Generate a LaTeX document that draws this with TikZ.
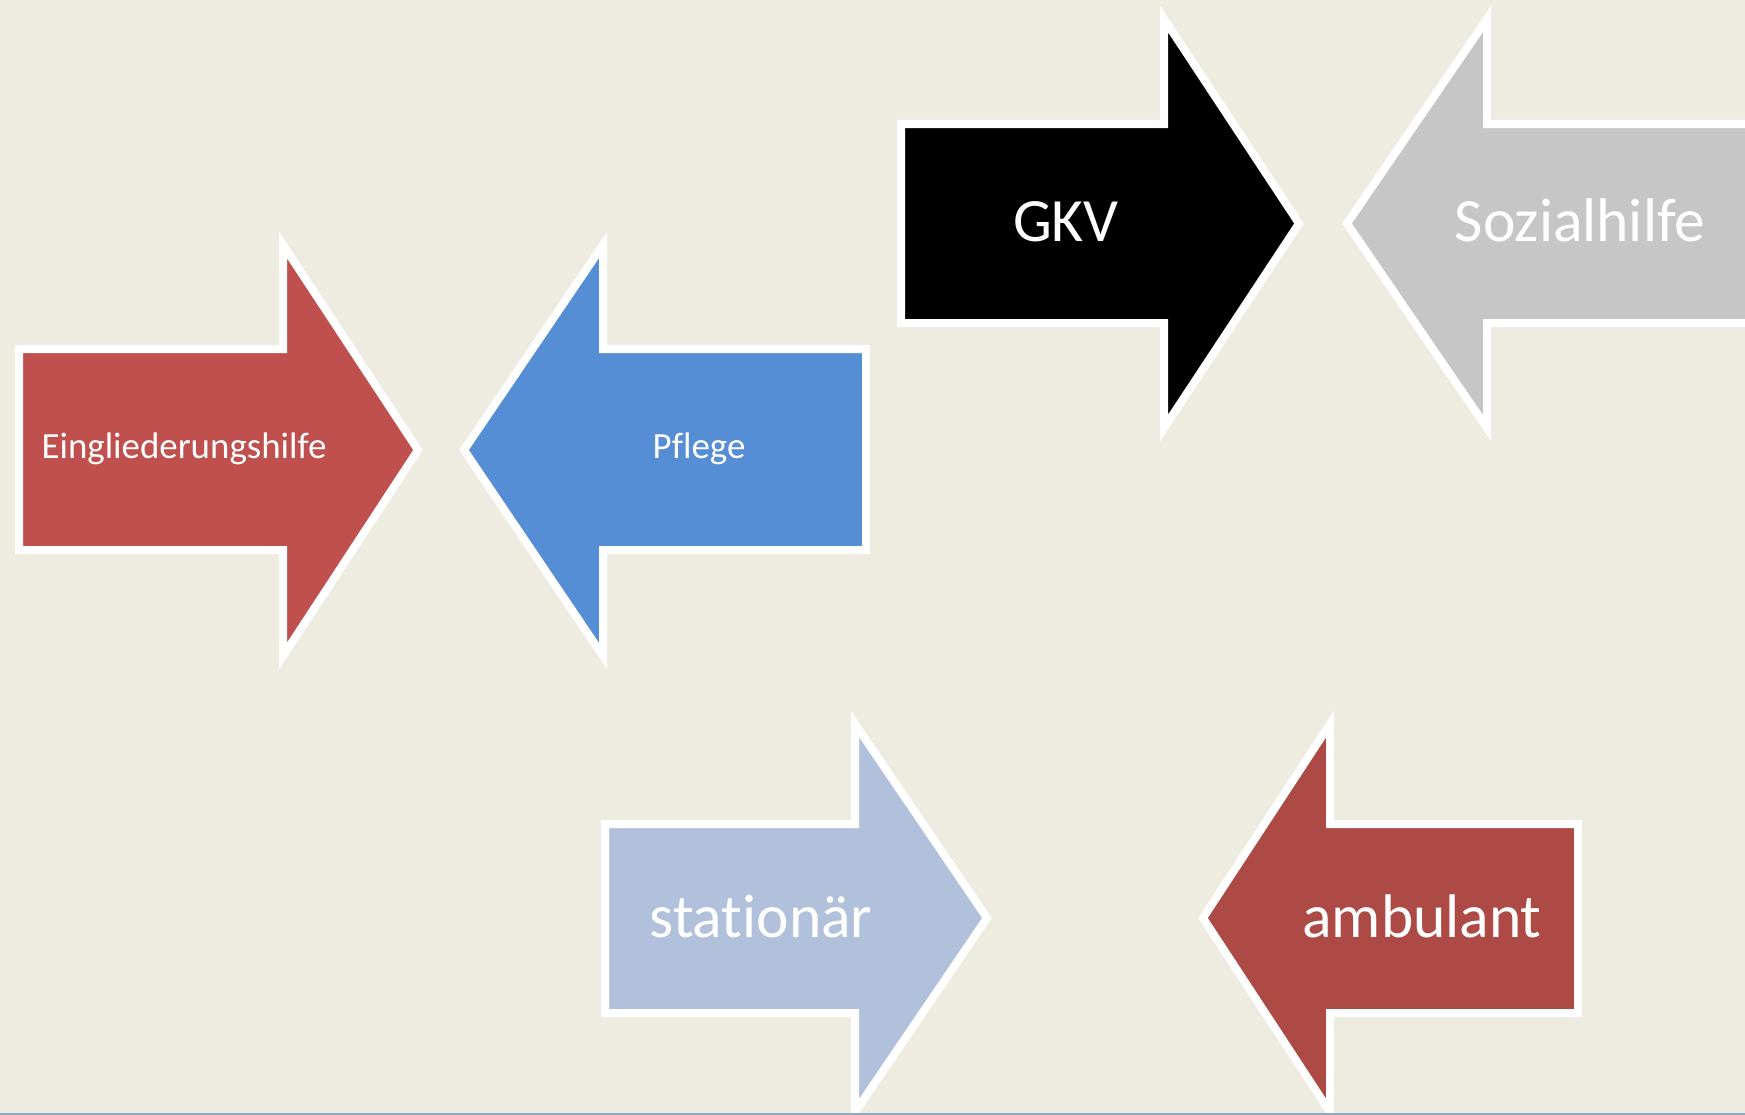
\documentclass[tikz,border=0pt]{standalone}
\usepackage{fontspec}
\setmainfont[Ligatures=NoCommon]{Carlito}
\usepackage{tikz}
\definecolor{bgtan}{HTML}{EEECE1}
\definecolor{eghred}{HTML}{C0504D}
\definecolor{pflblue}{HTML}{558ED5}
\definecolor{sozgray}{HTML}{C6C6C6}
\definecolor{statblue}{HTML}{B2C1DB}
\definecolor{ambred}{HTML}{AE4A45}
\definecolor{rulegray}{HTML}{8FAABC}
\tikzset{
  arrowbox/.style={draw=white,line width=0.08cm,line join=miter},
  lbl/.style={text=white,anchor=base,inner sep=0pt},
  small/.style={lbl,font=\fontsize{10.5}{12}\selectfont},
  big/.style={lbl,font=\fontsize{17.5}{20}\selectfont}
}

\begin{document}
\begin{tikzpicture}[x=0.01cm,y=-0.01cm]
      \clip (0,0) rectangle (1745,1115);
      \fill[bgtan] (0,0) rectangle (1745,1115);
      % obere Reihe
      \draw[arrowbox,fill=black] (901,124) -- (1164,124) -- (1164,19) -- (1299,223.5) -- (1164,428) -- (1164,323) -- (901,323) -- cycle;
      \draw[arrowbox,fill=sozgray] (1770,124) -- (1487,124) -- (1487,19) -- (1347,223.5) -- (1487,428) -- (1487,323) -- (1770,323) -- cycle;
      % mittlere Reihe
      \draw[arrowbox,fill=eghred] (19,349) -- (283,349) -- (283,245) -- (418,450) -- (283,656) -- (283,550) -- (19,550) -- cycle;
      \draw[arrowbox,fill=pflblue] (866,349) -- (603,349) -- (603,245) -- (464,450) -- (603,656) -- (603,550) -- (866,550) -- cycle;
      % untere Reihe
      \draw[arrowbox,fill=statblue] (605,824) -- (855,824) -- (855,724) -- (987,918) -- (855,1112) -- (855,1013) -- (605,1013) -- cycle;
      \draw[arrowbox,fill=ambred] (1578,824) -- (1330,824) -- (1330,724) -- (1203,918) -- (1330,1112) -- (1330,1013) -- (1578,1013) -- cycle;
      \draw[rulegray,line width=0.02cm] (0,1114) -- (1745,1114);
      \node[big] (gkv) at (1066,241.5) {GKV};
      \node[big] (sozialhilfe) at (1580,241.5) {Sozialhilfe};
      \node[small] (eingliederung) at (184,458.5) {Eingliederungshilfe};
      \node[small] (pflege) at (699,458.5) {Pflege};
      \node[big] (stationaer) at (761,937) {stationär};
      \node[big] (ambulant) at (1422,937) {ambulant};
\end{tikzpicture}
\end{document}
